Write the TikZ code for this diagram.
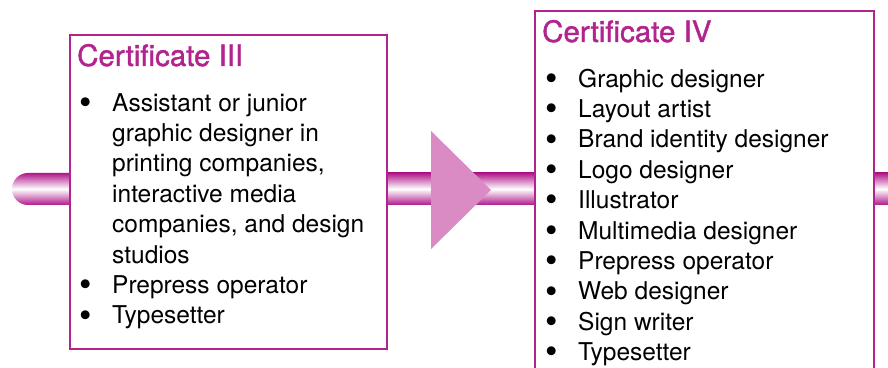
\documentclass[tikz,border=0pt]{standalone}
\usepackage{fontspec}
\setmainfont{TeX Gyre Heros}
\newfontfamily\titlefont{TeX Gyre Heros}[FakeBold=1.3]
\usetikzlibrary{calc}
\definecolor{magc}{HTML}{B2238E}
\definecolor{tubec}{HTML}{B0178A}
\definecolor{arrowc}{HTML}{DA8BC4}
\newcommand{\bul}{\smash{\raisebox{-3.2pt}{\scalebox{1.45}{\textbullet}}}}
\tikzset{
  certbox/.style={draw=magc, line width=1.8pt, fill=white, inner sep=0pt, anchor=north west},
  certtitle/.style={text=magc, anchor=base west, inner sep=0pt, font=\titlefont\fontsize{29.5}{34}\selectfont},
  certlist/.style={anchor=north west, inner sep=0pt, align=left, font=\fontsize{24.5}{30.4}\selectfont},
  tube/.style={top color=tubec, bottom color=tubec, middle color=white}
}
\begin{document}
\begin{tikzpicture}[x=1pt,y=1pt]
\useasboundingbox (0,0) rectangle (888,367);
\clip (0,0) rectangle (888,367);
\fill[white] (0,0) rectangle (888,367);
\coordinate (mid) at (0,178);
\coordinate (leftend) at (12,178);
\coordinate (rightend) at (888,178);
% box outlines used as anchors for the tube
\path (69,333) node[certbox, draw=none, fill=none, minimum width=317pt, minimum height=314pt] (c3) {};
\path (534,357) node[certbox, draw=none, fill=none, minimum width=339pt, minimum height=390pt] (c4) {};
% tube segments
\shade[tube] ([yshift=-16pt]c3.west |- mid) -- ([xshift=16pt,yshift=-16pt]leftend) arc (270:90:16pt) -- ([yshift=16pt]c3.west |- mid) -- cycle;
\shade[tube] ([yshift=-16pt]c3.east |- mid) rectangle ([yshift=16pt]c4.west |- mid);
\shade[tube] ([yshift=-16pt]c4.east |- mid) rectangle ([yshift=16pt]rightend);
% arrow head
\fill[arrowc] (431,236) -- (491,177) -- (431,118) -- cycle;
% boxes
\node[certbox, minimum width=317pt, minimum height=314pt] (b3) at (69,333) {};
\node[certbox, minimum width=339pt, minimum height=390pt] (b4) at (534,357) {};
% titles
\node[certtitle] (t3) at (77,301) {Certificate III};
\node[certtitle] (t4) at (542,325) {Certificate IV};
% lists
\node[certlist] (l3) at (79,277.3) {%
\begin{tabular}{@{}p{33pt}@{}l@{}}
\bul & Assistant or junior\\
 & graphic designer in\\
 & printing companies,\\
 & interactive media\\
 & companies, and design\\
 & studios\\
\bul & Prepress operator\\
\bul & Typesetter
\end{tabular}};
\node[certlist] (l4) at (545,301.3) {%
\begin{tabular}{@{}p{33pt}@{}l@{}}
\bul & Graphic designer\\
\bul & Layout artist\\
\bul & Brand identity designer\\
\bul & Logo designer\\
\bul & Illustrator\\
\bul & Multimedia designer\\
\bul & Prepress operator\\
\bul & Web designer\\
\bul & Sign writer\\
\bul & Typesetter
\end{tabular}};
\end{tikzpicture}
\end{document}
